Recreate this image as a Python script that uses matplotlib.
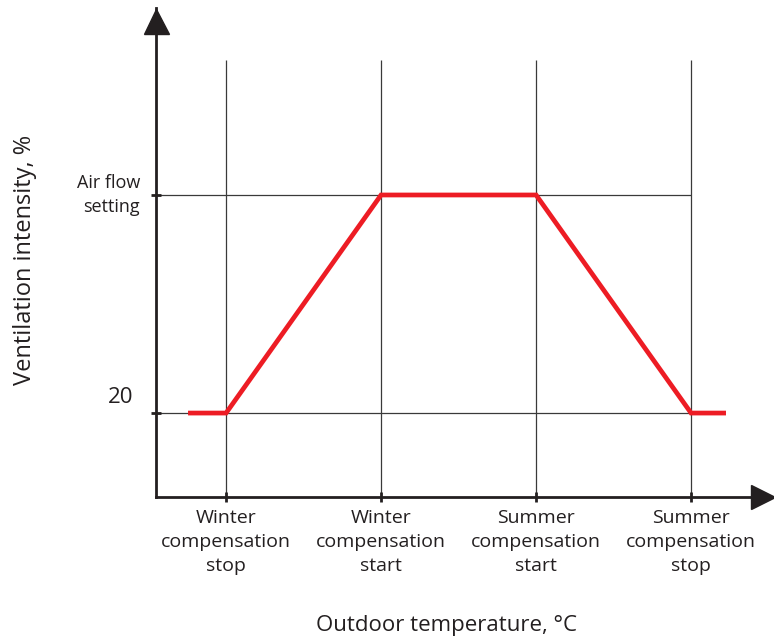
import matplotlib.pyplot as plt
from matplotlib.transforms import blended_transform_factory

# ── Datos ──────────────────────────────────────────────────────────────────
categorias = ['Winter\ncompensation\nstop', 'Winter\ncompensation\nstart',
              'Summer\ncompensation\nstart', 'Summer\ncompensation\nstop']
x_cat = [1, 2, 3, 4]
nivel_min = 20          # ventilación mínima, %
nivel_ajuste = 100      # "Air flow setting"
# curva roja: x, y
curva_x = [0.77, 1, 2, 3, 4, 4.21]
curva_y = [nivel_min, nivel_min, nivel_ajuste, nivel_ajuste, nivel_min, nivel_min]

TXT = '#231f20'
ROJO = '#ed1c24'
plt.rcParams['font.family'] = ['Open Sans', 'DejaVu Sans']

fig = plt.figure(figsize=(7.74, 6.38), dpi=100)
W, H = 774, 638
ax = fig.add_axes([156 / W, (H - 497) / H, (774 - 156) / W, (497 - 8) / H])

x0, x1 = 0.548, 4.535
y0, y1 = -10.8, 168.6
ax.set_xlim(x0, x1)
ax.set_ylim(y0, y1)

# rejilla
ax.vlines(x_cat, y0, 149.5, color='#3a3a3a', lw=0.9, zorder=1)
ax.hlines([nivel_min, nivel_ajuste], x0, x_cat[-1], color='#3a3a3a', lw=0.9, zorder=1)

# curva
ax.plot(curva_x, curva_y, color=ROJO, lw=3.4, solid_joinstyle='miter', zorder=3)

# ejes
for s in ['top', 'right']:
    ax.spines[s].set_visible(False)
for s in ['left', 'bottom']:
    ax.spines[s].set_linewidth(2.0)
    ax.spines[s].set_color(TXT)

# flechas
ax.plot(x0, y1 - 12.5 / 2.725, marker='^', ms=18, color=TXT, clip_on=False, zorder=5)
ax.plot(x1 - 11 / 155, y0, marker='>', ms=17, color=TXT, clip_on=False, zorder=5)

ax.set_xticks(x_cat)
ax.set_xticklabels(categorias, fontsize=14, color=TXT, linespacing=1.42)
ax.set_yticks([nivel_min, nivel_ajuste])
ax.set_yticklabels([])
ax.tick_params(axis='both', direction='inout', length=7, width=2, color=TXT, pad=5)

trans = blended_transform_factory(ax.transAxes, ax.transData)
ax.text(-0.026, nivel_ajuste, 'Air flow\nsetting', transform=trans, ha='right', va='center',
        fontsize=13, color=TXT, linespacing=1.45)
ax.text(-0.037, nivel_min + 5.6, '20', transform=trans, ha='right', va='center',
        fontsize=16, color=TXT)

fig.text(447 / W, 1 - 625 / H, 'Outdoor temperature, °C', ha='center', va='center',
         fontsize=16, color=TXT)
fig.text(25 / W, 1 - 260 / H, 'Ventilation intensity, %', ha='center', va='center',
         rotation=90, fontsize=17, color=TXT)

fig.savefig('out.png', dpi=100)
